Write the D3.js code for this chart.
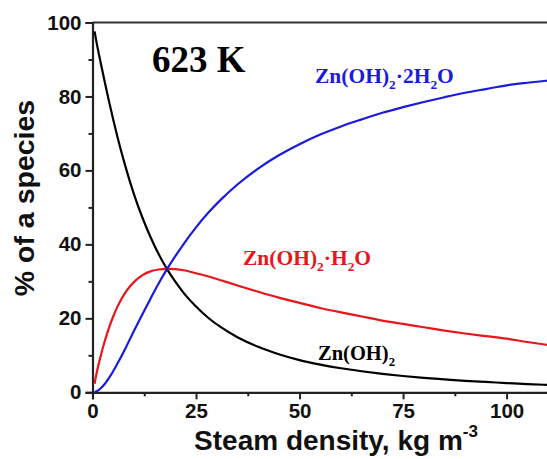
<!DOCTYPE html>
<html><head><meta charset="utf-8">
<script src="https://cdn.jsdelivr.net/npm/d3@7/dist/d3.min.js"></script>
<style>body{margin:0;background:#fff}svg{display:block}</style>
</head><body>
<script>
// steam density (kg m^-3)
const density = [0.5,1,2,3,4,5,6,8,10,12,14,16,18,20,22,25,28,31,35,40,45,50,55,60,65,70,75,80,85,90,95,100,105,110];
// % of species
const znOH2   = [97.6,94.5,89.0,83.7,78.6,73.8,69.2,60.9,53.6,47.4,42.0,37.3,33.3,29.9,26.9,23.2,20.1,17.6,14.9,12.3,10.3,8.7,7.5,6.5,5.7,5.0,4.4,3.9,3.5,3.1,2.8,2.5,2.2,2.0];
const znOH2H2O  = [2.3,5.2,9.9,14.0,17.5,20.5,23.1,27.1,29.8,31.6,32.7,33.2,33.4,33.3,33.0,32.2,31.3,30.3,28.9,27.2,25.6,24.2,22.8,21.6,20.5,19.4,18.5,17.6,16.7,15.9,15.2,14.5,13.6,12.8];
const znOH22H2O = [0.1,0.3,1.1,2.3,3.9,5.7,7.7,12.0,16.6,21.0,25.3,29.5,33.3,36.8,40.1,44.6,48.6,52.1,56.2,60.5,64.1,67.1,69.7,71.9,73.8,75.6,77.1,78.5,79.8,81.0,82.0,83.0,83.7,84.3];
const xTicks = [0,25,50,75,100];
const xMinor = [12.5,37.5,62.5,87.5];
const yTicks = [0,20,40,60,80,100];
const yMinor = [10,30,50,70,90];

const W=547,H=459;
const svg=d3.select("body").append("svg").attr("width",W).attr("height",H);
const x=d3.scaleLinear().domain([0,110]).range([92.5,548]);
const y=d3.scaleLinear().domain([0,100]).range([392.3,22.5]);
const axCol="#222";

// top frame line
svg.append("line").attr("x1",x(0)).attr("x2",W).attr("y1",y(100)).attr("y2",y(100))
  .attr("stroke","#333").attr("stroke-width",2);

// axes
svg.append("g").attr("transform",`translate(0,${y(0)})`)
  .call(d3.axisBottom(x).tickValues(xTicks).tickSize(7).tickPadding(4).tickFormat(d3.format("d")));
svg.append("g").attr("transform",`translate(0,${y(0)})`)
  .call(d3.axisBottom(x).tickValues(xMinor).tickSize(4).tickFormat(""))
  .call(g=>g.select(".domain").remove());
svg.append("g").attr("transform",`translate(${x(0)},0)`)
  .call(d3.axisLeft(y).tickValues(yTicks).tickSize(7).tickPadding(4));
svg.append("g").attr("transform",`translate(${x(0)},0)`)
  .call(d3.axisLeft(y).tickValues(yMinor).tickSize(4).tickFormat(""))
  .call(g=>g.select(".domain").remove());
svg.selectAll(".domain").attr("stroke",axCol).attr("stroke-width",2.2);
svg.selectAll(".tick line").attr("stroke",axCol).attr("stroke-width",2);
svg.selectAll(".tick text").attr("font-family","Liberation Sans, Arial, sans-serif")
  .attr("font-weight","bold").attr("font-size",20.5).attr("fill","#111");

// lines
const series=[
  {vals:znOH2,color:"#000000"},
  {vals:znOH2H2O,color:"#e8151b"},
  {vals:znOH22H2O,color:"#1b1bdc"}
];
const line=d3.line().x(d=>x(d[0])).y(d=>y(d[1])).curve(d3.curveMonotoneX);
series.forEach(s=>{
  svg.append("path").datum(density.map((r,i)=>[r,s.vals[i]]))
    .attr("d",line).attr("fill","none").attr("stroke",s.color).attr("stroke-width",2.2);
});

// axis titles
svg.append("text").attr("transform","rotate(-90)").attr("x",-198).attr("y",34)
  .attr("text-anchor","middle").attr("font-family","Liberation Sans, Arial, sans-serif")
  .attr("font-weight","bold").attr("font-size",28.5).attr("fill","#111").text("% of a species");
const xt=svg.append("text").attr("x",336).attr("y",450).attr("text-anchor","middle")
  .attr("font-family","Liberation Sans, Arial, sans-serif").attr("font-weight","bold")
  .attr("font-size",28).attr("fill","#111");
xt.append("tspan").text("Steam density, kg m");
xt.append("tspan").attr("dy",-13).attr("font-size",17).text("-3");

// annotations
svg.append("text").attr("x",152).attr("y",71.5).attr("font-family","Liberation Serif, Times New Roman, serif")
  .attr("font-weight","bold").attr("font-size",37).attr("fill","#000").text("623 K");

function chem(xp,yp,parts,color,fs){
  const t=svg.append("text").attr("x",xp).attr("y",yp).attr("font-family","Liberation Serif, Times New Roman, serif")
    .attr("font-weight","bold").attr("font-size",fs).attr("fill",color);
  let sub=false;
  parts.forEach(p=>{
    const ts=t.append("tspan").text(p[0]);
    if(p[1]){ts.attr("font-size",fs*0.62).attr("dy",6);sub=true;}
    else if(sub){ts.attr("dy",-6);sub=false;}
  });
}
chem(315,83,[["Zn(OH)"],["2",1],["·2H"],["2",1],["O"]],"#1b1bdc",21.5);
chem(243,265,[["Zn(OH)"],["2",1],["·H"],["2",1],["O"]],"#e8151b",21.5);
chem(318,360,[["Zn(OH)"],["2",1]],"#000",20.5);
</script>
</body></html>
